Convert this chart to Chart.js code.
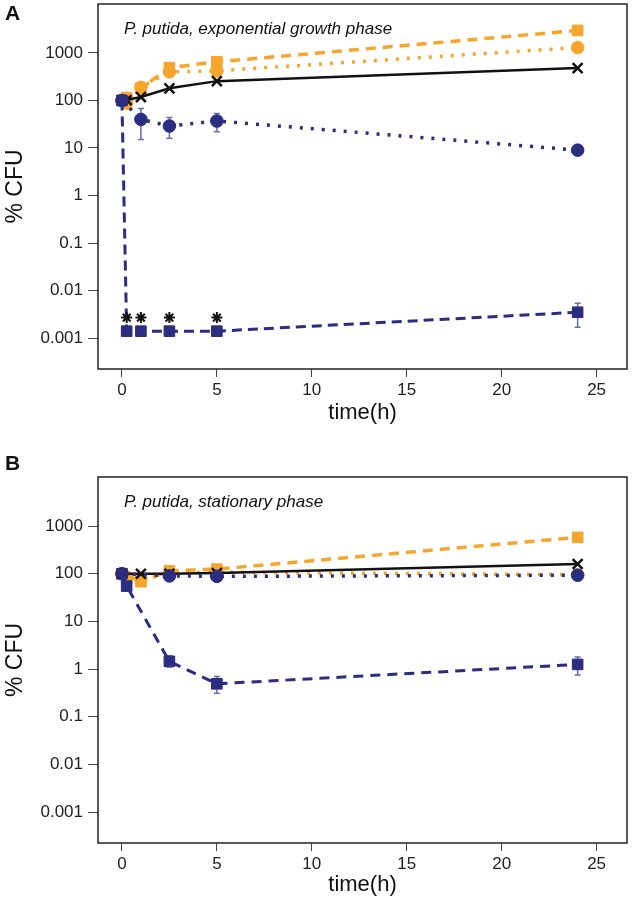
<!DOCTYPE html>
<html lang="en">
<head>
<meta charset="UTF-8">
<title>P. putida - % CFU over time</title>
<script src="https://cdn.jsdelivr.net/npm/chart.js"></script>
<style>
  body { margin: 0; background: #fff; font-family: "Liberation Sans", Arial, sans-serif; }
  #wrap { position: relative; width: 634px; height: 908px; }
  canvas { position: absolute; left: 0; }
  .lab { position: absolute; left: 5px; font-weight: bold; font-size: 21px; line-height: 24px; color: #111; }
</style>
</head>
<body>
<div id="wrap">
  <canvas id="chartA" width="634" height="440" style="top:0"></canvas>
  <canvas id="chartB" width="634" height="468" style="top:440px"></canvas>
  <div class="lab" style="top:1px">A</div>
  <div class="lab" style="top:451px">B</div>
</div>

<script>
// === DATA ===
const times = [0, 0.25, 1, 2.5, 5, 24];
const xTicks = [0, 5, 10, 15, 20, 25];
const yTicks = [0.001, 0.01, 0.1, 1, 10, 100, 1000];

// panel A - exponential growth phase
const aOrangeSquare = [100, 115, 180, 490, 650, 2970];
const aOrangeCircle = [100, 88, 190, 400, 420, 1300];
const aBlackCross   = [100, 102, 118, 180, 255, 480];
const aBlueCircle   = [100, null, 40, 29, 37, 9];
const aBlueCircleLo = [null, null, 15, 16, 22, null];
const aBlueCircleHi = [null, null, 68, 44, 53, null];
const aBlueSquare   = [100, 0.0014, 0.0014, 0.0014, 0.0014, 0.0035];
const aBlueSquareLo = [null, null, null, null, null, 0.0017];
const aBlueSquareHi = [null, null, null, null, null, 0.0054];
const aStars        = [null, 0.0027, 0.0027, 0.0027, 0.0027, null];

// panel B - stationary phase
const bOrangeSquare = [100, 80, 68, 115, 125, 580];
const bOrangeCircle = [100, 85, 75, 100, 108, 95];
const bBlackCross   = [100, null, 100, 100, 103, 160];
const bBlueCircle   = [100, null, null, 90, 88, 93];
const bBlueSquare   = [100, 55, null, 1.45, 0.49, 1.25];
const bBlueSquareLo = [null, null, null, 1.1, 0.31, 0.75];
const bBlueSquareHi = [null, null, null, 1.9, 0.7, 1.8];

const NAVY = '#2b2d80';
const ORANGE = '#f7a52b';
const BLACK = '#111111';
const ERRBAR = '#6b6aa8';

Chart.defaults.font.family = '"Liberation Sans", Arial, sans-serif';
Chart.defaults.color = '#1a1a1a';

const pts = vals => times.map((t, i) => ({ x: t, y: vals[i] }));

// error bars + frame + note inside the plot
const framePlugin = {
    id: 'frame',
    beforeDatasetsDraw(chart) {
        const { ctx, scales: { x, y } } = chart;
        chart.data.datasets.forEach(ds => {
            if (!ds.errLo) return;
            ctx.save();
            ctx.strokeStyle = ERRBAR;
            ctx.lineWidth = 1.5;
            times.forEach((t, j) => {
                const lo = ds.errLo[j], hi = ds.errHi[j];
                if (lo == null) return;
                const px = x.getPixelForValue(t);
                const y1 = y.getPixelForValue(lo), y2 = y.getPixelForValue(hi);
                ctx.beginPath();
                ctx.moveTo(px, y1); ctx.lineTo(px, y2);
                ctx.moveTo(px - 3, y1); ctx.lineTo(px + 3, y1);
                ctx.moveTo(px - 3, y2); ctx.lineTo(px + 3, y2);
                ctx.stroke();
            });
            ctx.restore();
        });
    },
    afterDraw(chart, args, opts) {
        const { ctx, chartArea: a } = chart;
        ctx.save();
        ctx.strokeStyle = '#222';
        ctx.lineWidth = 1.5;
        ctx.strokeRect(a.left, a.top, a.right - a.left, a.bottom - a.top);
        ctx.fillStyle = '#111';
        ctx.font = 'italic 17px "Liberation Sans", Arial, sans-serif';
        ctx.textBaseline = 'alphabetic';
        ctx.fillText(opts.note, a.left + 26, a.top + 30);
        ctx.restore();
    }
};

function lineSet(vals, color, style, radius, dash, width, extra) {
    return Object.assign({
        data: pts(vals),
        borderColor: color,
        backgroundColor: color,
        borderWidth: width,
        borderDash: dash,
        pointStyle: style,
        pointRadius: radius,
        pointBorderWidth: 1,
        pointBorderColor: color,
        pointBackgroundColor: color,
        spanGaps: true,
        tension: 0
    }, extra || {});
}

function makeChart(id, datasets, note, padTop, xHeight, xTitlePad) {
    return new Chart(document.getElementById(id), {
        type: 'line',
        data: { datasets: datasets },
        options: {
            responsive: false,
            animation: false,
            devicePixelRatio: 1,
            layout: { autoPadding: false, padding: { top: padTop, right: 7, left: 0, bottom: 0 } },
            plugins: {
                legend: { display: false },
                tooltip: { enabled: false },
                frame: { note: note }
            },
            scales: {
                x: {
                    type: 'linear',
                    min: -1.26,
                    max: 26.6,
                    afterBuildTicks: s => { s.ticks = xTicks.map(v => ({ value: v })); },
                    afterFit: s => { s.height = xHeight; s.paddingLeft = 0; s.paddingRight = 0; },
                    ticks: { font: { size: 17 }, color: '#222', padding: 3, maxRotation: 0 },
                    grid: { drawOnChartArea: false, drawTicks: true, tickLength: 8, color: '#444' },
                    border: { display: false },
                    title: { display: true, text: 'time(h)', font: { size: 22 }, color: '#111', padding: { top: 0, bottom: xTitlePad } }
                },
                y: {
                    type: 'logarithmic',
                    min: 0.000224,
                    max: 10700,
                    afterBuildTicks: s => { s.ticks = yTicks.map(v => ({ value: v })); },
                    afterFit: s => { s.width = 98; s.paddingTop = 0; s.paddingBottom = 0; },
                    ticks: { font: { size: 17 }, color: '#222', padding: 5, callback: v => String(v) },
                    grid: { drawOnChartArea: false, drawTicks: true, tickLength: 10, color: '#444' },
                    border: { display: false },
                    title: { display: true, text: '% CFU', font: { size: 23 }, color: '#111', padding: { top: 2, bottom: 0 } }
                }
            }
        },
        plugins: [framePlugin]
    });
}

// === PANEL A ===
makeChart('chartA', [
    lineSet(aStars, BLACK, 'star', 5.5, [], 2, { showLine: false, pointBorderWidth: 2 }),
    lineSet(aBlueSquare, NAVY, 'rect', 7.5, [10, 6], 3, { errLo: aBlueSquareLo, errHi: aBlueSquareHi }),
    lineSet(aBlueCircle, NAVY, 'circle', 6.3, [3, 8], 3.5, { errLo: aBlueCircleLo, errHi: aBlueCircleHi }),
    lineSet(aBlackCross, BLACK, 'crossRot', 7, [], 2.5, { pointBorderWidth: 2.5 }),
    lineSet(aOrangeCircle, ORANGE, 'circle', 6.3, [3, 8], 3.5),
    lineSet(aOrangeSquare, ORANGE, 'rect', 7.5, [10, 7], 3.5)
], 'P. putida, exponential growth phase', 4, 71, 14);

// === PANEL B ===
makeChart('chartB', [
    lineSet(bBlueSquare, NAVY, 'rect', 7.5, [10, 7], 3, { errLo: bBlueSquareLo, errHi: bBlueSquareHi }),
    lineSet(bBlueCircle, NAVY, 'circle', 6.3, [3, 8], 3.5),
    lineSet(bBlackCross, BLACK, 'crossRot', 7, [], 2.5, { pointBorderWidth: 2.5 }),
    lineSet(bOrangeCircle, ORANGE, 'circle', 6.3, [3, 8], 3.5),
    lineSet(bOrangeSquare, ORANGE, 'rect', 7.5, [10, 7], 3.5)
], 'P. putida, stationary phase', 37, 65, 10);
</script>
</body>
</html>
